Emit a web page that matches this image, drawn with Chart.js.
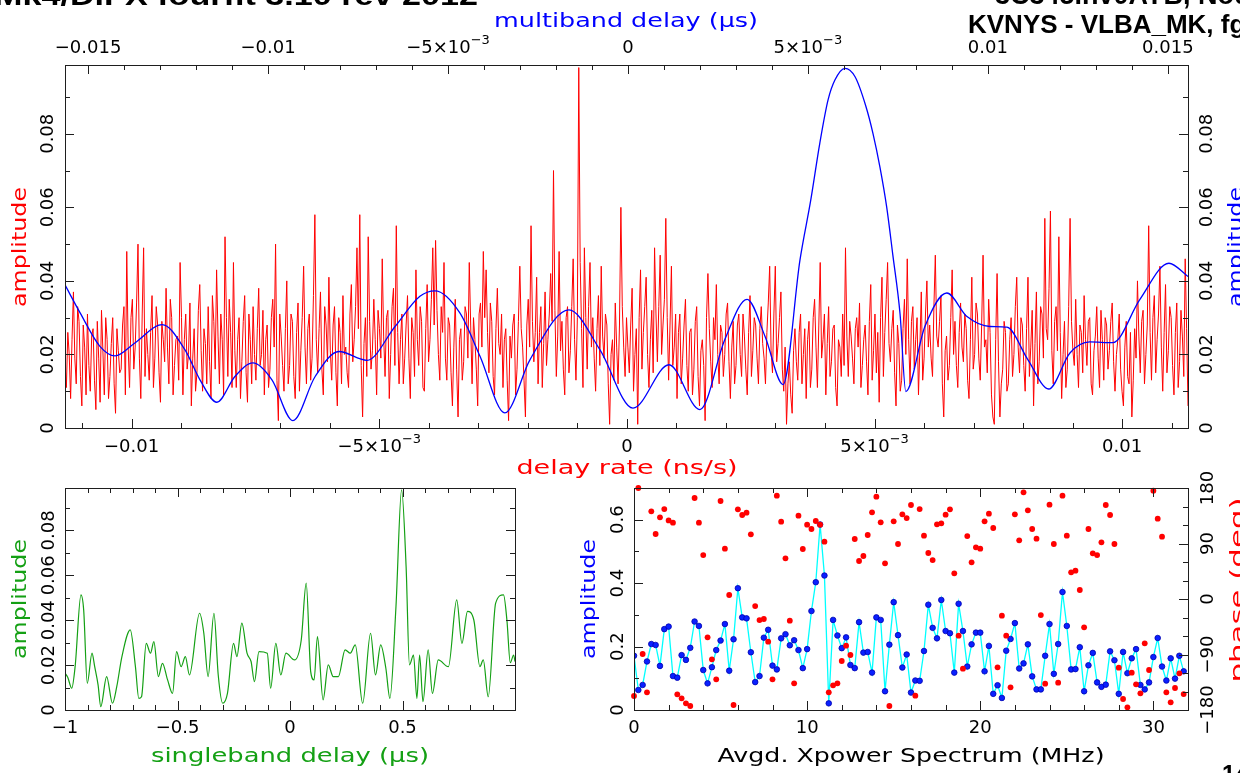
<!DOCTYPE html>
<html>
<head>
<meta charset="utf-8">
<script src="https://cdn.jsdelivr.net/npm/chart.js@4.4.1/dist/chart.umd.min.js"></script>
<style>
  html, body { margin: 0; padding: 0; background: #fff; }
  #wrap { position: relative; width: 1240px; height: 773px; overflow: hidden; background: #fff; }
  #wrap canvas { position: absolute; left: 0; top: 0; }
</style>
</head>
<body>
<div id="wrap">
  <canvas id="fringe" width="1240" height="773"></canvas>
  <canvas id="sbd" width="1240" height="773"></canvas>
  <canvas id="spectrum" width="1240" height="773"></canvas>
</div>
<script>
// ---- delay-rate spectrum (red), evenly sampled over the rate window
const rateStart = -0.011345;
const rateEnd = 0.01133;
// even-numbered rate bins
const rateAmpEven = [
  .018,.026,.008,.037,.012,.029,.006,.022,.031,.010,.027,.005,.019,.032,.009,.024,.014,.030,.004,.021,
  .016,.033,.048,.011,.035,.022,.050,.008,.049,.027,.013,.036,.019,.028,.007,.024,.038,.012,.030,.017,
  .025,.045,.009,.031,.020,.006,.027,.015,.039,.010,.023,.033,.008,.029,.043,.012,.024,.052,.014,.026,
  .045,.011,.030,.018,.036,.007,.024,.033,.013,.038,.020,.009,.028,.016,.035,.050,.002,.025,.010,.040,
  .017,.029,.008,.034,.021,.044,.012,.031,.019,.058,.015,.037,.009,.028,.041,.013,.033,.006,.026,.036,
  .022,.011,.039,.024,.049,.058,.003,.030,.052,.016,.035,.009,.027,.046,.014,.032,.020,.038,.055,.012,
  .031,.019,.036,.008,.026,.043,.017,.029,.010,.039,.024,.049,.051,.020,.033,.045,.013,.028,.006,.035,
  .003,.027,.018,.031,.045,.012,.024,.006,.034,.048,.043,.015,.029,.009,.038,.020,.011,.027,.002,.019,
  .031,.016,.044,.022,.003,.035,.055,.018,.041,.026,.011,.037,.024,.042,.070,.014,.048,.029,.009,.033,
  .021,.046,.013,.098,.027,.049,.016,.045,.030,.010,.036,.044,.019,.028,.001,.024,.034,.012,.060,.022,
  .030,.015,.038,.020,.001,.043,.026,.041,.011,.032,.049,.018,.047,.028,.057,.013,.044,.022,.008,.031,
  .019,.035,.010,.027,.016,.033,.006,.024,.002,.042,.018,.030,.039,.012,.026,.020,.034,.008,.029,.017,
  .031,.014,.025,.009,.036,.021,.028,.012,.033,.019,.026,.044,.015,.044,.023,.037,.010,.001,.018,.004,
  .027,.013,.031,.020,.008,.029,.016,.035,.011,.045,.024,.009,.033,.018,.028,.006,.022,.031,.049,.014,
  .025,.012,.030,.034,.017,.028,.009,.039,.021,.015,.007,.041,.026,.045,.018,.032,.006,.023,.013,.035,
  .046,.012,.033,.024,.009,.037,.019,.040,.028,.014,.047,.022,.036,.003,.025,.017,.043,.029,.011,.034,
  .018,.027,.008,.041,.020,.031,.013,.047,.024,.035,.009,.001,.042,.003,.016,.026,.012,.030,.020,.041,
  .015,.028,.010,.041,.022,.006,.037,.018,.031,.057,.024,.059,.012,.033,.052,.008,.029,.016,.057,.021,
  .035,.011,.026,.036,.017,.030,.009,.025,.019,.032,.013,.028,.021,.034,.010,.024,.016,.006,.029,.012,
  .003,.027,.040,.015,.032,.020,.055,.013,.036,.024,.044,.010,.039,.021,.030,.009,.034,.018,.025,.046,.006
];
// odd-numbered rate bins (between the even ones)
const rateAmpOdd = [
  .011,.020,.024,.019,.033,.014,.028,.009,.017,.025,.013,.029,.007,.021,.030,.008,.023,.012,.027,.015,
  .028,.009,.022,.030,.016,.034,.019,.031,.014,.020,.026,.011,.033,.015,.029,.018,.022,.035,.009,.024,
  .013,.030,.024,.016,.034,.019,.010,.032,.021,.027,.012,.018,.036,.016,.025,.031,.009,.030,.035,.011,
  .021,.024,.008,.029,.015,.031,.012,.020,.027,.017,.032,.024,.011,.030,.022,.013,.031,.017,.027,.012,
  .031,.014,.026,.010,.030,.022,.027,.013,.036,.024,.027,.016,.033,.018,.021,.028,.015,.030,.012,.020,
  .015,.031,.018,.033,.027,.017,.023,.014,.029,.021,.024,.032,.019,.025,.030,.008,.033,.017,.026,.024,
  .012,.028,.019,.030,.014,.024,.033,.011,.027,.018,.035,.028,.032,.013,.026,.019,.030,.015,.022,.016,
  .024,.013,.033,.019,.028,.030,.016,.031,.022,.030,.026,.034,.014,.027,.023,.031,.024,.013,.025,.028,
  .009,.029,.027,.013,.028,.022,.029,.026,.012,.033,.023,.017,.031,.029,.032,.025,.021,.016,.030,.015,
  .033,.024,.030,.045,.011,.030,.033,.022,.019,.027,.017,.025,.031,.012,.020,.013,.022,.028,.033,.014,
  .022,.028,.010,.027,.030,.016,.033,.020,.024,.015,.031,.033,.020,.035,.030,.028,.017,.031,.026,.012,
  .028,.017,.026,.009,.029,.014,.021,.017,.030,.027,.011,.024,.020,.028,.014,.031,.018,.022,.012,.028,
  .020,.031,.016,.026,.014,.030,.019,.027,.023,.012,.034,.021,.031,.018,.030,.016,.022,.012,.009,.021,
  .018,.026,.012,.027,.024,.011,.030,.022,.028,.019,.031,.023,.014,.027,.011,.024,.014,.017,.025,.029,
  .019,.027,.022,.011,.024,.018,.029,.013,.031,.026,.030,.014,.035,.023,.027,.015,.028,.010,.027,.020,
  .024,.029,.016,.030,.022,.013,.031,.022,.019,.033,.025,.029,.012,.021,.013,.030,.020,.017,.026,.022,
  .031,.013,.024,.016,.034,.019,.028,.022,.015,.026,.003,.024,.018,.012,.029,.010,.024,.014,.033,.022,
  .030,.017,.027,.014,.032,.023,.012,.033,.019,.027,.038,.021,.029,.021,.026,.020,.011,.033,.029,.017,
  .020,.028,.015,.024,.029,.012,.021,.033,.011,.024,.030,.016,.029,.018,.020,.031,.010,.022,.014,.026,
  .013,.019,.025,.029,.012,.028,.026,.030,.015,.031,.022,.026,.015,.033,.017,.026,.011,.032,.014,.027
];

// ---- multiband delay function (blue)
const mbdDelay = [-0.01564,-0.01522,-0.01467,-0.01425,-0.01369,-0.01294,-0.01231,-0.01189,-0.01142,-0.01092,
  -0.01042,-0.00989,-0.00931,-0.00869,-0.00803,-0.00725,-0.00647,-0.00578,-0.00536,-0.00467,
  -0.00411,-0.00342,-0.00272,-0.00164,-0.00078,0.00014,0.00114,0.00200,0.00269,0.00331,
  0.00381,0.00431,0.00478,0.00508,0.00533,0.00556,0.00575,0.00603,0.00631,0.00661,
  0.00681,0.00700,0.00719,0.00736,0.00756,0.00772,0.00825,0.00886,0.00942,0.01006,
  0.01053,0.01111,0.01169,0.01228,0.01283,0.01347,0.01422,0.01503,0.01556];
const mbdAmp = [0.0389,0.0313,0.0222,0.0196,0.0232,0.0281,0.0213,0.0131,0.0070,0.0140,
  0.0177,0.0131,0.0020,0.0140,0.0208,0.0184,0.0276,0.0358,0.0373,0.0313,
  0.0195,0.0041,0.0186,0.0321,0.0213,0.0054,0.0172,0.0050,0.0240,0.0350,
  0.0249,0.0118,0.0457,0.0620,0.0774,0.0892,0.0946,0.0978,0.0955,0.0875,
  0.0800,0.0710,0.0600,0.0470,0.0310,0.0099,0.0276,0.0367,0.0303,0.0276,
  0.0274,0.0186,0.0106,0.0204,0.0234,0.0232,0.0349,0.0448,0.0412];

// ---- singleband delay function (green)
const sbdDelay = [-1.000,-0.988,-0.970,-0.955,-0.929,-0.917,-0.901,-0.880,-0.868,-0.853,
  -0.841,-0.815,-0.789,-0.770,-0.747,-0.710,-0.687,-0.672,-0.660,-0.639,
  -0.620,-0.605,-0.585,-0.567,-0.544,-0.522,-0.504,-0.484,-0.465,-0.447,
  -0.402,-0.383,-0.364,-0.338,-0.319,-0.299,-0.278,-0.251,-0.236,-0.214,
  -0.191,-0.173,-0.158,-0.138,-0.101,-0.086,-0.063,-0.041,-0.018,0.020,
  0.050,0.072,0.092,0.107,0.122,0.147,0.170,0.192,0.215,0.245,
  0.268,0.290,0.323,0.358,0.380,0.403,0.426,0.444,0.471,0.496,
  0.516,0.531,0.549,0.564,0.576,0.591,0.614,0.633,0.659,0.704,
  0.741,0.764,0.789,0.817,0.844,0.859,0.881,0.914,0.949,0.964,
  0.979,0.994,1.000];
const sbdAmp = [.0164,.0146,.0097,.0193,.0513,.0446,.0119,.0253,.0193,.0112,
  .0015,.0149,.0030,.0104,.0238,.0357,.0193,.0052,.0059,.0297,
  .0253,.0305,.0149,.0208,.0134,.0074,.0260,.0193,.0238,.0156,
  .0431,.0342,.0149,.0431,.0156,.0030,.0074,.0297,.0238,.0387,
  .0253,.0216,.0126,.0260,.0253,.0097,.0297,.0156,.0253,.0223,
  .0312,.0565,.0171,.0134,.0327,.0045,.0201,.0149,.0149,.0268,
  .0253,.0290,.0030,.0342,.0156,.0290,.0186,.0052,.0461,.0981,
  .0639,.0201,.0245,.0052,.0245,.0037,.0268,.0074,.0223,.0193,
  .0491,.0297,.0439,.0401,.0193,.0223,.0059,.0476,.0513,.0401,
  .0211,.0245,.0216];

// ---- averaged cross-power spectrum, one value per 0.25 MHz channel
const chanWidth = 0.25;
const specAmp = [.171,.063,.079,.153,.208,.205,.139,.255,.263,.107,
  .102,.173,.158,.196,.279,.265,.126,.084,.135,.189,
  .219,.271,.124,.223,.384,.292,.289,.182,.088,.107,
  .228,.253,.140,.128,.226,.239,.204,.220,.189,.132,
  .192,.312,.403,.585,.424,.021,.284,.235,.195,.229,
  .142,.132,.277,.181,.183,.118,.292,.284,.059,.206,
  .340,.236,.134,.175,.055,.093,.092,.186,.332,.259,
  .226,.347,.249,.242,.118,.335,.249,.137,.207,.244,
  .244,.122,.202,.051,.078,.038,.187,.224,.274,.131,
  .147,.207,.106,.065,.065,.171,.271,.114,.208,.372,
  .265,.128,.129,.198,.059,.141,.180,.087,.073,.080,
  .185,.157,.051,.183,.116,.163,.192,.079,.065,.087,
  .167,.227,.137,.093,.163,.099,.171,.122];
const specPhase = [-157.3,180,-89.2,-151.4,142.1,105.4,132.4,145.9,127.5,123.8,
  -154.6,-161.1,-169.2,-173.5,163.8,123.8,71.3,-62.2,-97.8,-130.3,
  158.9,81.6,6.5,-171.9,145.4,136.2,140.0,104.8,-11.4,-34.1,
  -32.4,-69.2,-130.3,167.5,125.4,65.9,-35.1,-136.8,135.1,81.1,
  120.5,113.5,126.5,120.5,93.0,-151.4,-140.0,-136.8,-100.5,-75.7,
  -90.8,97.3,61.6,69.7,103.8,140.5,165.9,124.3,57.8,-173.5,
  125.9,89.2,137.3,131.3,152.4,-156.8,145.9,102.7,74.6,63.2,
  121.1,122.7,136.7,145.4,41.6,-59.5,-113.0,102.1,59.4,83.8,
  81.6,125.9,138.4,115.1,-110.8,-27.0,-59.5,-143.2,137.3,95.1,
  173.0,143.8,113.5,97.8,-26.0,-137.3,153.0,89.2,-135.7,167.5,
  102.7,43.2,45.9,14.6,-46.0,113.5,74.0,71.3,91.9,152.4,
  136.2,89.2,-111.4,-162.2,-175.7,-119.5,-138.4,-153.0,-71.9,-115.1,
  175.7,130.2,101.1,-151.4,-167.6,-144.3,-120.5,-154.1];

// ---- tick labels
const rateTicks = [-0.01, -0.005, 0, 0.005, 0.01];
const rateTickLabels = ['\u22120.01', '\u22125\u00d710^\u22123', '0', '5\u00d710^\u22123', '0.01'];
const mbdTicks = [-0.015, -0.01, -0.005, 0, 0.005, 0.01, 0.015];
const mbdTickLabels = ['\u22120.015', '\u22120.01', '\u22125\u00d710^\u22123', '0', '5\u00d710^\u22123', '0.01', '0.015'];
const ampTicks = [0, 0.02, 0.04, 0.06, 0.08];
const ampTickLabels = ['0', '0.02', '0.04', '0.06', '0.08'];
const sbdTicks = [-1, -0.5, 0, 0.5];
const sbdTickLabels = ['\u22121', '\u22120.5', '0', '0.5'];
const freqTicks = [0, 10, 20, 30];
const freqTickLabels = ['0', '10', '20', '30'];
const specAmpTicks = [0, 0.2, 0.4, 0.6];
const specAmpTickLabels = ['0', '0.2', '0.4', '0.6'];
const phaseTicks = [-180, -90, 0, 90, 180];
const phaseTickLabels = ['\u2212180', '\u221290', '0', '90', '180'];

const FONT = '"DejaVu Sans", sans-serif';
const TITLE_FONT = '"Liberation Sans", Arial, sans-serif';
const RED = '#ff0000', BLUE = '#0000ff', GREEN = '#14a014';

// merge even/odd rate bins into one series
const rateAmp = [];
rateAmpEven.forEach((v, i) => {
  rateAmp.push(v);
  if (i < rateAmpOdd.length) rateAmp.push(rateAmpOdd[i]);
});

// text with optional superscript after '^', optional stretch to a target width
function label(ctx, str, x, y, o) {
  const size = o.size || 17;
  const fam = o.family || FONT;
  const wt = o.bold ? 'bold ' : '';
  const [main, sup] = str.split('^');
  const supSize = Math.round(size * 0.72);
  ctx.save();
  ctx.translate(x, y);
  if (o.rot) ctx.rotate(o.rot);
  ctx.fillStyle = o.color || '#000';
  ctx.textBaseline = 'alphabetic';
  ctx.textAlign = 'left';
  ctx.font = wt + size + 'px ' + fam;
  const w1 = ctx.measureText(main).width;
  let w2 = 0;
  if (sup) { ctx.font = wt + supSize + 'px ' + fam; w2 = ctx.measureText(sup).width; }
  const natural = w1 + w2;
  if (o.width) ctx.scale(o.width / natural, 1);
  const x0 = o.align === 'left' ? 0 : -natural / 2;
  ctx.font = wt + size + 'px ' + fam;
  ctx.fillText(main, x0, 0);
  if (sup) {
    ctx.font = wt + supSize + 'px ' + fam;
    ctx.fillText(sup, x0 + w1, -size * 0.5);
  }
  ctx.restore();
}

// PGPLOT style box: frame, inward ticks on all sides, labels and titles
function pgBox(spec) {
  return {
    id: 'pgbox',
    afterDatasetsDraw(chart) {
      const ctx = chart.ctx, a = chart.chartArea;
      ctx.save();
      ctx.strokeStyle = '#1e1e1e';
      ctx.lineWidth = 1;
      spec.ticks.forEach(t => {
        const sc = chart.scales[t.scale];
        const k0 = Math.ceil(sc.min / t.minor - 1e-6);
        const k1 = Math.floor(sc.max / t.minor + 1e-6);
        for (let k = k0; k <= k1; k++) {
          const v = k * t.minor;
          const major = Math.abs(v / t.major - Math.round(v / t.major)) < 1e-6;
          const len = major ? 9 : 5;
          const p = Math.round(sc.getPixelForValue(v)) + 0.5;
          ctx.beginPath();
          if (t.side === 'bottom') { ctx.moveTo(p, a.bottom); ctx.lineTo(p, a.bottom - len); }
          if (t.side === 'top') { ctx.moveTo(p, a.top); ctx.lineTo(p, a.top + len); }
          if (t.side === 'left') { ctx.moveTo(a.left, p); ctx.lineTo(a.left + len, p); }
          if (t.side === 'right') { ctx.moveTo(a.right, p); ctx.lineTo(a.right - len, p); }
          ctx.stroke();
        }
      });
      ctx.strokeRect(Math.round(a.left) + 0.5, Math.round(a.top) + 0.5,
        Math.round(a.right - a.left), Math.round(a.bottom - a.top));
      ctx.restore();

      spec.labels.forEach(l => {
        const sc = chart.scales[l.scale];
        l.vals.forEach((v, i) => {
          const p = sc.getPixelForValue(v);
          if (sc.isHorizontal()) label(ctx, l.texts[i], p, l.at, { size: 18 });
          else label(ctx, l.texts[i], l.at, p, { size: 18, rot: -Math.PI / 2 });
        });
      });
      (spec.texts || []).forEach(t => label(ctx, t.str, t.x, t.y, t));
    }
  };
}

const baseOpts = {
  responsive: false,
  animation: false,
  devicePixelRatio: 1,
  events: [],
  plugins: { legend: { display: false }, tooltip: { enabled: false } }
};

// ---------------- fringe panel (delay rate / multiband delay)
new Chart(document.getElementById('fringe'), {
  type: 'scatter',
  data: {
    datasets: [
      {
        data: mbdDelay.map((x, i) => ({ x, y: mbdAmp[i] })),
        xAxisID: 'xMbd', yAxisID: 'y',
        showLine: true, borderColor: BLUE, borderWidth: 1.3,
        pointRadius: 0, cubicInterpolationMode: 'monotone', order: 0
      },
      {
        data: rateAmp.map((y, i) => ({ x: rateStart + i * (rateEnd - rateStart) / (rateAmp.length - 1), y })),
        xAxisID: 'xRate', yAxisID: 'y',
        showLine: true, borderColor: RED, borderWidth: 1,
        pointRadius: 0, tension: 0, order: 1
      }
    ]
  },
  options: {
    ...baseOpts,
    layout: { padding: { left: 65, top: 65, right: 52, bottom: 345 } },
    scales: {
      xRate: { type: 'linear', axis: 'x', position: 'bottom', min: rateStart, max: rateEnd, display: false },
      xMbd: { type: 'linear', axis: 'x', position: 'top', min: -0.01564, max: 0.01556, display: false },
      y: { type: 'linear', min: 0, max: 0.0987, display: false }
    }
  },
  plugins: [pgBox({
    ticks: [
      { scale: 'xRate', side: 'bottom', minor: 0.001, major: 0.005 },
      { scale: 'xMbd', side: 'top', minor: 0.001, major: 0.005 },
      { scale: 'y', side: 'left', minor: 0.01, major: 0.02 },
      { scale: 'y', side: 'right', minor: 0.01, major: 0.02 }
    ],
    labels: [
      { scale: 'xRate', vals: rateTicks, texts: rateTickLabels, at: 452 },
      { scale: 'xMbd', vals: mbdTicks, texts: mbdTickLabels, at: 53 },
      { scale: 'y', vals: ampTicks, texts: ampTickLabels, at: 53 },
      { scale: 'y', vals: ampTicks, texts: ampTickLabels, at: 1212 }
    ],
    texts: [
      { str: 'Mk4/DiFX fourfit 3.10 rev 2012', x: 236, y: 5, size: 27, bold: true, family: TITLE_FONT, width: 484 },
      { str: '3C345.nv0AYB, No0001, RR', x: 995, y: 4, size: 27, bold: true, family: TITLE_FONT, align: 'left' },
      { str: 'KVNYS - VLBA_MK, fgroup X, pol RR', x: 968, y: 33, size: 26, bold: true, family: TITLE_FONT, align: 'left' },
      { str: 'multiband delay (\u03bcs)', x: 626, y: 27, size: 19, color: BLUE, width: 264 },
      { str: 'delay rate (ns/s)', x: 627, y: 474, size: 19, color: RED, width: 221 },
      { str: 'amplitude', x: 26, y: 247, size: 19, color: RED, width: 120, rot: -Math.PI / 2 },
      { str: 'amplitude', x: 1242, y: 247, size: 19, color: BLUE, width: 120, rot: -Math.PI / 2 },
      { str: '14', x: 1222, y: 782, size: 24, bold: true, family: TITLE_FONT, align: 'left' }
    ]
  })]
});

// ---------------- singleband delay panel
new Chart(document.getElementById('sbd'), {
  type: 'scatter',
  data: {
    datasets: [{
      data: sbdDelay.map((x, i) => ({ x, y: sbdAmp[i] })),
      showLine: true, borderColor: GREEN, borderWidth: 1.2,
      pointRadius: 0, cubicInterpolationMode: 'monotone'
    }]
  },
  options: {
    ...baseOpts,
    layout: { padding: { left: 65, top: 488, right: 725, bottom: 63 } },
    scales: {
      x: { type: 'linear', min: -1, max: 1, display: false },
      y: { type: 'linear', min: 0, max: 0.0989, display: false }
    }
  },
  plugins: [pgBox({
    ticks: [
      { scale: 'x', side: 'bottom', minor: 0.1, major: 0.5 },
      { scale: 'x', side: 'top', minor: 0.1, major: 0.5 },
      { scale: 'y', side: 'left', minor: 0.01, major: 0.02 },
      { scale: 'y', side: 'right', minor: 0.01, major: 0.02 }
    ],
    labels: [
      { scale: 'x', vals: sbdTicks, texts: sbdTickLabels, at: 733 },
      { scale: 'y', vals: ampTicks, texts: ampTickLabels, at: 54 }
    ],
    texts: [
      { str: 'singleband delay (\u03bcs)', x: 290, y: 762, size: 19, color: GREEN, width: 278 },
      { str: 'amplitude', x: 26, y: 599, size: 19, color: GREEN, width: 120, rot: -Math.PI / 2 }
    ]
  })]
});

// ---------------- cross-power spectrum panel
new Chart(document.getElementById('spectrum'), {
  type: 'scatter',
  data: {
    datasets: [
      {
        data: specPhase.map((y, i) => ({ x: i * chanWidth, y })),
        yAxisID: 'yPh',
        pointRadius: 2.9, pointBackgroundColor: RED, pointBorderWidth: 0,
        clip: false, order: 0
      },
      {
        data: specAmp.map((y, i) => ({ x: i * chanWidth, y })),
        yAxisID: 'yAmp',
        showLine: true, borderColor: '#00ffff', borderWidth: 1.3,
        pointRadius: 2.8, pointBackgroundColor: '#0a20ff', pointBorderColor: '#0000b0', pointBorderWidth: 0.8,
        tension: 0, order: 1
      }
    ]
  },
  options: {
    ...baseOpts,
    layout: { padding: { left: 634, top: 488, right: 52, bottom: 63 } },
    scales: {
      x: { type: 'linear', min: 0, max: 32, display: false },
      yAmp: { type: 'linear', axis: 'y', position: 'left', min: 0, max: 0.70, display: false },
      yPh: { type: 'linear', axis: 'y', position: 'right', min: -180, max: 180, display: false }
    }
  },
  plugins: [pgBox({
    ticks: [
      { scale: 'x', side: 'bottom', minor: 2, major: 10 },
      { scale: 'x', side: 'top', minor: 2, major: 10 },
      { scale: 'yAmp', side: 'left', minor: 0.1, major: 0.2 },
      { scale: 'yPh', side: 'right', minor: 30, major: 90 }
    ],
    labels: [
      { scale: 'x', vals: freqTicks, texts: freqTickLabels, at: 733 },
      { scale: 'yAmp', vals: specAmpTicks, texts: specAmpTickLabels, at: 623 },
      { scale: 'yPh', vals: phaseTicks, texts: phaseTickLabels, at: 1213 }
    ],
    texts: [
      { str: 'Avgd. Xpower Spectrum (MHz)', x: 911, y: 762, size: 19, color: '#000', width: 387 },
      { str: 'amplitude', x: 595, y: 599, size: 19, color: BLUE, width: 120, rot: -Math.PI / 2 },
      { str: 'phase (deg)', x: 1244, y: 590, size: 19, color: RED, width: 185, rot: -Math.PI / 2 }
    ]
  })]
});
</script>
</body>
</html>
